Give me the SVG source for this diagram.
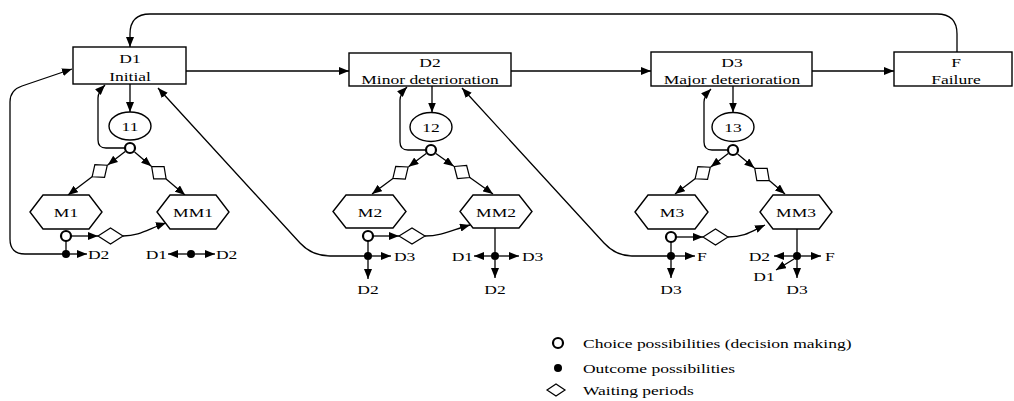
<svg xmlns="http://www.w3.org/2000/svg" width="1014" height="401" viewBox="0 0 1014 401">
<defs>
<marker id="ah" viewBox="0 0 10 8" refX="10" refY="4" markerWidth="10" markerHeight="8" markerUnits="userSpaceOnUse" orient="auto">
<path d="M0,0 L10,4 L0,8 z" fill="#000"/>
</marker>
<polygon id="dm" points="-9.5,0 0,-8 9.5,0 0,8"/>
</defs>
<style>
.box{fill:#fff;stroke:#000;stroke-width:1.4}
.ln{fill:none;stroke:#000;stroke-width:1.3}
.ar{marker-end:url(#ah)}
.ch{fill:#fff;stroke:#000;stroke-width:2.2}
.dot{fill:#000}
.dm{fill:#fff;stroke:#000;stroke-width:1.2}
text{font-family:"Liberation Serif","Times New Roman",serif;font-size:17.5px;fill:#000;dominant-baseline:central}
.c{text-anchor:middle}
.e{text-anchor:end}
</style>
<rect width="1014" height="401" fill="#fff"/>
<g id="connectors">
<path class="ln ar" d="M957,52 V34 Q957,14 937,14 H150 Q130,14 130,34 V47"/>
<path class="ln ar" d="M186,71 H349"/>
<path class="ln ar" d="M511,71 H651"/>
<path class="ln ar" d="M812,71 H894"/>
<path class="ln ar" d="M130,84 V112"/>
<path class="ln ar" d="M432,86 V112.5"/>
<path class="ln ar" d="M733,86 V112.5"/>
<path class="ln ar" d="M124,148 H106 Q98,148 98,140 V98 Q98,92 105,85"/>
<path class="ln ar" d="M425,150 H408 Q400,150 400,142 V100 Q400,94 407,87"/>
<path class="ln ar" d="M727,150 H712 Q704,150 704,142 V102 Q704,96 711,89"/>
<path class="ln ar" d="M125.2,151.6 L107.7,165"/>
<path class="ln ar" d="M92.1,176.7 L68,195"/>
<path class="ln ar" d="M134.6,151.9 L151.3,166.2"/>
<path class="ln ar" d="M166.1,178.9 L185,195"/>
<path class="ln ar" d="M426.2,153.6 L408.5,166.7"/>
<path class="ln ar" d="M392.9,178.4 L372,194"/>
<path class="ln ar" d="M435.9,153.5 L453.8,166.2"/>
<path class="ln ar" d="M469.8,177.5 L493,194"/>
<path class="ln ar" d="M728.2,153.6 L710.7,167"/>
<path class="ln ar" d="M695.1,178.7 L675,194"/>
<path class="ln ar" d="M737.6,153.9 L754.4,168"/>
<path class="ln ar" d="M769.3,180.6 L785,194"/>
<path class="ln ar" d="M71,236 H98"/>
<path class="ln ar" d="M123,236 C140,236 148,229 166,223"/>
<path class="ln ar" d="M373,236 H399"/>
<path class="ln ar" d="M425,236 C442,236 452,230 470,225"/>
<path class="ln ar" d="M676,237 H703"/>
<path class="ln ar" d="M728,237 C745,237 752,231 765,225"/>
<path class="ln" d="M66,241 V254"/>
<path class="ln" d="M368,241 V256"/>
<path class="ln" d="M671,242 V256"/>
<path class="ln" d="M495,228 V256"/>
<path class="ln" d="M797,229 V256"/>
<path class="ln ar" d="M66,254 H25 Q10,254 10,239 V102 Q10,90 22,86 L72,69"/>
<path class="ln ar" d="M368,256 H330 Q312,256 300,243 L158,88"/>
<path class="ln ar" d="M671,256 H632 Q616,256 604,243 L462,88"/>
<path class="ln ar" d="M70,254 H87"/>
<path class="ln ar" d="M187,254 H168"/>
<path class="ln ar" d="M195,254 H215"/>
<path class="ln ar" d="M372,256 H391"/>
<path class="ln ar" d="M368,260 V279"/>
<path class="ln ar" d="M491,256 H474"/>
<path class="ln ar" d="M499,256 H519"/>
<path class="ln ar" d="M495,260 V278"/>
<path class="ln ar" d="M675,256 H695"/>
<path class="ln ar" d="M671,260 V278"/>
<path class="ln ar" d="M793,256 H774"/>
<path class="ln ar" d="M801,256 H821"/>
<path class="ln ar" d="M797,260 V278"/>
<path class="ln ar" d="M794,259 L776,270"/>
</g>
<g id="node-D1"><rect class="box" x="73" y="47" width="113" height="37"/>
<text class="c" transform="translate(130,58) scale(1,.74)">D1</text>
<text class="c" transform="translate(130,76) scale(1,.74)">Initial</text></g>
<g id="node-D2"><rect class="box" x="349" y="53" width="162" height="33"/>
<text class="c" transform="translate(430,62) scale(1,.74)">D2</text>
<text class="c" transform="translate(430,79) scale(1,.74)">Minor deterioration</text></g>
<g id="node-D3"><rect class="box" x="651" y="52" width="161" height="34"/>
<text class="c" transform="translate(732,62) scale(1,.74)">D3</text>
<text class="c" transform="translate(732,79) scale(1,.74)">Major deterioration</text></g>
<g id="node-F"><rect class="box" x="894" y="52" width="118" height="34"/>
<text class="c" transform="translate(956,62) scale(1,.74)">F</text>
<text class="c" transform="translate(956,79) scale(1,.74)">Failure</text></g>
<g id="node-11"><ellipse class="box" cx="130" cy="126" rx="21" ry="14"/>
<text class="c" transform="translate(130,126) scale(1,.74)">11</text></g>
<g id="node-12"><ellipse class="box" cx="431" cy="127" rx="21" ry="14.5"/>
<text class="c" transform="translate(431,127) scale(1,.74)">12</text></g>
<g id="node-13"><ellipse class="box" cx="733" cy="127" rx="21" ry="14.5"/>
<text class="c" transform="translate(733,127) scale(1,.74)">13</text></g>
<g id="node-M1"><polygon class="box" points="30,212 43,195 89,195 102,212 89,229 43,229"/>
<text class="c" transform="translate(66,212) scale(1,.74)">M1</text></g>
<g id="node-MM1"><polygon class="box" points="157,212 170,195 216,195 229,212 216,229 170,229"/>
<text class="c" transform="translate(193,212) scale(1,.74)">MM1</text></g>
<g id="node-M2"><polygon class="box" points="333,211.5 346,195 393,195 406,211.5 393,228 346,228"/>
<text class="c" transform="translate(370,212) scale(1,.74)">M2</text></g>
<g id="node-MM2"><polygon class="box" points="460,211.5 473,195 519,195 532,211.5 519,228 473,228"/>
<text class="c" transform="translate(496,212) scale(1,.74)">MM2</text></g>
<g id="node-M3"><polygon class="box" points="635,212 648,195 695,195 708,212 695,229 648,229"/>
<text class="c" transform="translate(672,212) scale(1,.74)">M3</text></g>
<g id="node-MM3"><polygon class="box" points="760,212 773,195 819,195 832,212 819,229 773,229"/>
<text class="c" transform="translate(796,212) scale(1,.74)">MM3</text></g>
<g id="choices">
<circle class="ch" cx="130" cy="148" r="5"/>
<circle class="ch" cx="431" cy="150" r="5"/>
<circle class="ch" cx="733" cy="150" r="5"/>
<circle class="ch" cx="66" cy="236" r="5"/>
<circle class="ch" cx="368" cy="236" r="5"/>
<circle class="ch" cx="671" cy="237" r="5"/>
</g>
<g id="waits">
<use href="#dm" class="dm" transform="translate(99.7,171) rotate(142.8)"/>
<use href="#dm" class="dm" transform="translate(158.9,172.7) rotate(40.5)"/>
<use href="#dm" class="dm" transform="translate(400.5,172.7) rotate(143.3)"/>
<use href="#dm" class="dm" transform="translate(462,172) rotate(35.4)"/>
<use href="#dm" class="dm" transform="translate(702.7,173) rotate(142.8)"/>
<use href="#dm" class="dm" transform="translate(762,174.5) rotate(40.2)"/>
<polygon class="dm" points="98,236 110.5,228 123,236 110.5,244"/>
<polygon class="dm" points="399,236 412,228 425,236 412,244"/>
<polygon class="dm" points="703,237 715.5,229 728,237 715.5,245"/>
</g>
<g id="outcomes">
<circle class="dot" cx="66" cy="254" r="4"/>
<circle class="dot" cx="191" cy="254" r="4"/>
<circle class="dot" cx="368" cy="256" r="4"/>
<circle class="dot" cx="495" cy="256" r="4"/>
<circle class="dot" cx="671" cy="256" r="4"/>
<circle class="dot" cx="797" cy="256" r="4"/>
<text transform="translate(88,254) scale(1,.74)">D2</text>
<text class="e" transform="translate(167,254) scale(1,.74)">D1</text>
<text transform="translate(216,254) scale(1,.74)">D2</text>
<text transform="translate(394,256) scale(1,.74)">D3</text>
<text class="c" transform="translate(368,289) scale(1,.74)">D2</text>
<text class="e" transform="translate(473,256) scale(1,.74)">D1</text>
<text transform="translate(522,256) scale(1,.74)">D3</text>
<text class="c" transform="translate(495,289) scale(1,.74)">D2</text>
<text transform="translate(697,256) scale(1,.74)">F</text>
<text class="c" transform="translate(671,289) scale(1,.74)">D3</text>
<text class="e" transform="translate(770,256) scale(1,.74)">D2</text>
<text transform="translate(825,256) scale(1,.74)">F</text>
<text class="c" transform="translate(797,289) scale(1,.74)">D3</text>
<text class="c" transform="translate(764,276) scale(1,.74)">D1</text>
</g>
<g id="legend">
<circle class="ch" cx="558" cy="343" r="5"/>
<text transform="translate(583,343) scale(1,.74)">Choice possibilities (decision making)</text>
<circle class="dot" cx="558" cy="368" r="4"/>
<text transform="translate(583,368) scale(1,.74)">Outcome possibilities</text>
<polygon class="dm" points="547,390 556,384 565,390 556,396"/>
<text transform="translate(583,390) scale(1,.74)">Waiting periods</text>
</g>
</svg>
